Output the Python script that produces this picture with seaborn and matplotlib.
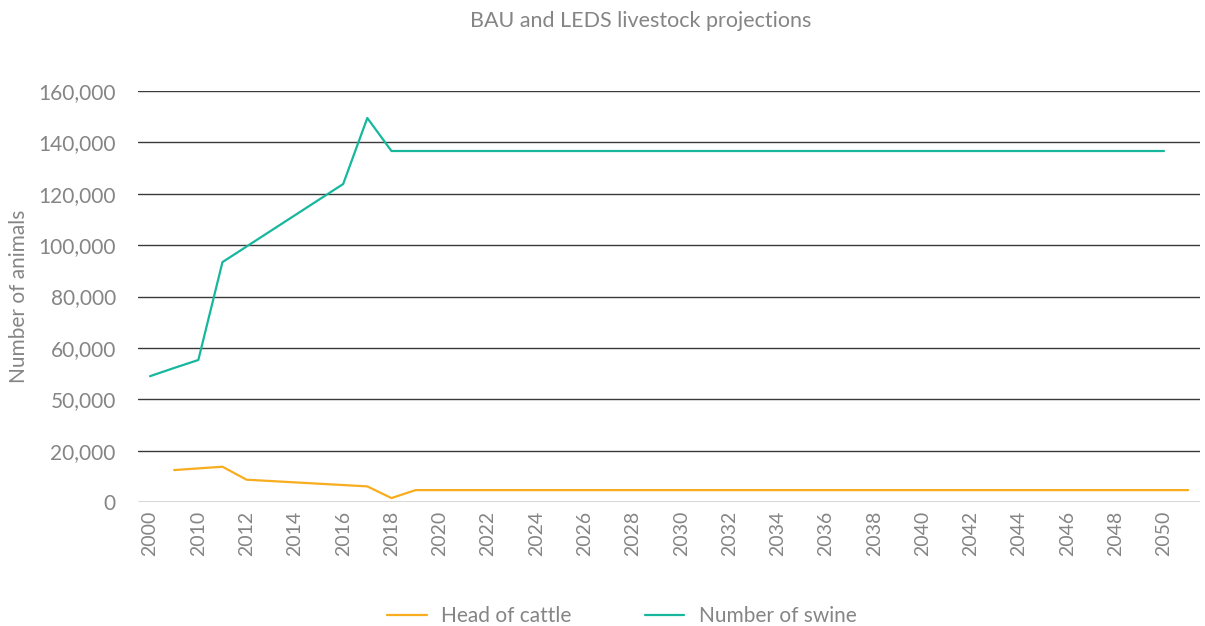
import matplotlib.pyplot as plt
import pandas as pd
import seaborn as sns
import numpy as np

# categories on the x axis (category axis, not a time axis)
years = ["2000", "2009"] + [str(y) for y in range(2010, 2052)]

# series values (NaN = no point)
cattle = ([np.nan, 12450, 13100, 13750, 8700, 8180, 7660, 7140, 6620, 6100, 1550]
          + [4650] * 33)
swine = ([49000, 52200, 55300, 93400, 99480, 105560, 111640, 117720, 123800, 149500, 136650]
         + [136650] * 32 + [np.nan])

series_names = ["Head of cattle", "Number of swine"]
colors = ["#F7AD1E", "#17B79E"]

ytick_vals = [0, 20000, 40000, 60000, 80000, 100000, 120000, 140000, 160000]
ytick_text = ["0", "20,000", "50,000", "60,000", "80,000", "100,000", "120,000", "140,000", "160,000"]

pos = list(range(len(years)))
df = pd.concat([
    pd.DataFrame({"pos": pos, "value": cattle, "series": series_names[0]}),
    pd.DataFrame({"pos": pos, "value": swine, "series": series_names[1]}),
], ignore_index=True)

sns.set_style("white")
plt.rcParams["font.family"] = ["Lato", "DejaVu Sans"]
grey = "#858585"

fig = plt.figure(figsize=(12.05, 6.26), dpi=100)
ax = fig.add_axes([0.1145, 0.198, 0.8815, 0.6566])

sns.lineplot(data=df, x="pos", y="value", hue="series", palette=colors,
             linewidth=1.6, ax=ax, legend=False)

ax.set_xlim(-0.5, len(years) - 0.5)
ax.set_ylim(0, 160000)
ax.set_xticks(pos[::2])
ax.set_xticklabels(years[::2], rotation=90, fontsize=14, color=grey)
ax.set_yticks(ytick_vals)
ax.set_yticklabels(ytick_text, fontsize=15, color=grey)
ax.tick_params(axis="both", length=0)
ax.tick_params(axis="y", pad=16)
ax.tick_params(axis="x", pad=6)
ax.yaxis.grid(True, color="#3a3a3a", linewidth=1)
ax.set_axisbelow(True)
for s in ax.spines.values():
    s.set_visible(False)

ax.set_xlabel("")
ax.set_ylabel("Number of animals", fontsize=15, color=grey, labelpad=7)
fig.text(0.532, 0.966, "BAU and LEDS livestock projections", ha="center", va="center",
         fontsize=15.5, color=grey)

handles = [plt.Line2D([], [], color=c, linewidth=1.6) for c in colors]
fig.legend(handles, series_names, loc="center", bbox_to_anchor=(0.516, 0.016),
           ncol=2, frameon=False, fontsize=15, labelcolor=grey,
           handlelength=1.9, columnspacing=3.5, handletextpad=0.7)

fig.savefig("out.png", dpi=100)
